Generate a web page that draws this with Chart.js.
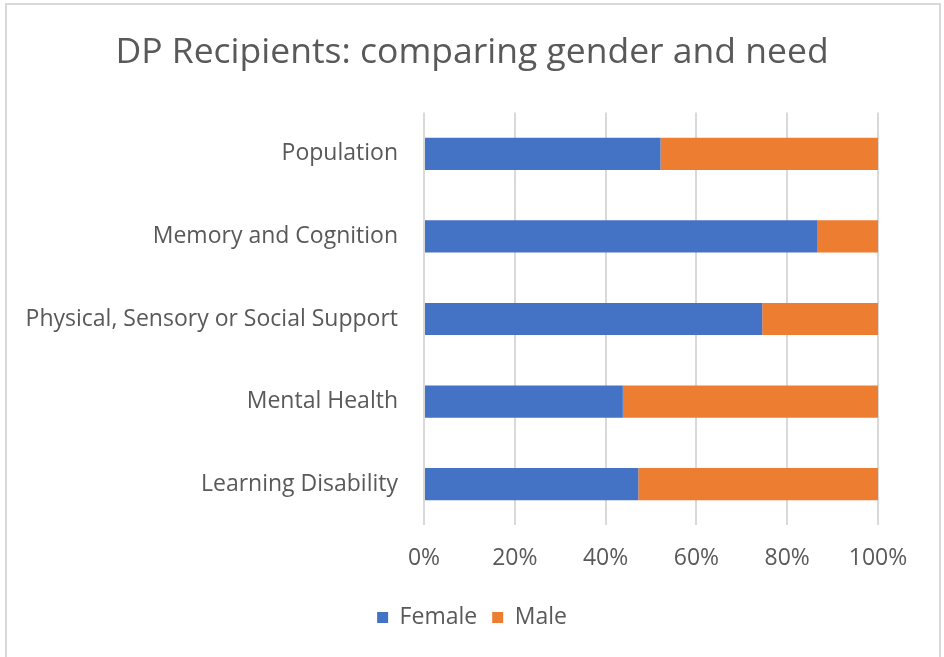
<!DOCTYPE html>
<html>
<head>
<meta charset="utf-8">
<script src="https://cdn.jsdelivr.net/npm/chart.js@4/dist/chart.umd.min.js"></script>
<style>
  html, body { margin: 0; padding: 0; background: #fff; }
  #wrap { position: relative; width: 944px; height: 657px; }
</style>
</head>
<body>
<div id="wrap"><canvas id="chart"></canvas></div>
<script>
// chart data (percent of recipients)
const categories = [
    'Population',
    'Memory and Cognition',
    'Physical, Sensory or Social Support',
    'Mental Health',
    'Learning Disability'
];
const femaleValues = [52.1, 86.7, 74.5, 43.8, 47.2];
const maleValues = [47.9, 13.3, 25.5, 56.2, 52.8];
const xTicks = [0, 20, 40, 60, 80, 100];

const textGrey = '#595959';
Chart.defaults.font.family = '"Open Sans", sans-serif';
Chart.defaults.color = textGrey;

// light grey frame round the whole chart, like the spreadsheet chart box
const frame = {
    id: 'frame',
    beforeDraw(chart) {
        const ctx = chart.ctx;
        ctx.save();
        ctx.fillStyle = '#fff';
        ctx.fillRect(0, 0, chart.width, chart.height);
        ctx.strokeStyle = '#d9d9d9';
        ctx.lineWidth = 2;
        ctx.strokeRect(6, 4, 934, 670);
        ctx.restore();
    }
};

new Chart(document.getElementById('chart'), {
    type: 'bar',
    data: {
        labels: categories,
        datasets: [
            { label: 'Female', data: femaleValues, backgroundColor: '#4472C4' },
            { label: 'Male', data: maleValues, backgroundColor: '#ED7D31' }
        ]
    },
    options: {
        indexAxis: 'y',
        responsive: true,
        maintainAspectRatio: false,
        animation: false,
        datasets: { bar: { categoryPercentage: 1, barPercentage: 0.39 } },
        layout: { padding: { left: 0, right: 0, top: 0, bottom: 18 } },
        plugins: {
            title: {
                display: true,
                text: 'DP Recipients: comparing gender and need',
                color: textGrey,
                font: { size: 35.5, weight: 'normal' },
                padding: { top: 32, bottom: 38 }
            },
            legend: {
                position: 'bottom',
                labels: {
                    boxWidth: 11,
                    boxHeight: 11,
                    padding: 15,
                    font: { size: 23 },
                    color: textGrey
                }
            },
            tooltip: { enabled: false }
        },
        scales: {
            x: {
                stacked: true,
                min: 0,
                max: 100,
                afterBuildTicks: scale => { scale.ticks = xTicks.map(v => ({ value: v })); },
                ticks: {
                    callback: v => v + '%',
                    font: { size: 23 },
                    color: textGrey,
                    padding: 19
                },
                grid: { color: '#d9d9d9', lineWidth: 2, drawTicks: false },
                border: { display: false }
            },
            y: {
                stacked: true,
                afterFit: scale => { scale.width = 424; },
                ticks: {
                    font: { size: 23 },
                    color: textGrey,
                    padding: 26
                },
                grid: { display: false, drawTicks: false },
                border: { display: false }
            },
            // empty right-hand axis, only to keep the plot's right edge in place
            spacer: {
                type: 'linear',
                position: 'right',
                afterFit: scale => { scale.width = 66; },
                ticks: { display: false },
                grid: { display: false, drawTicks: false },
                border: { display: false }
            }
        }
    },
    plugins: [frame]
});
</script>
</body>
</html>
